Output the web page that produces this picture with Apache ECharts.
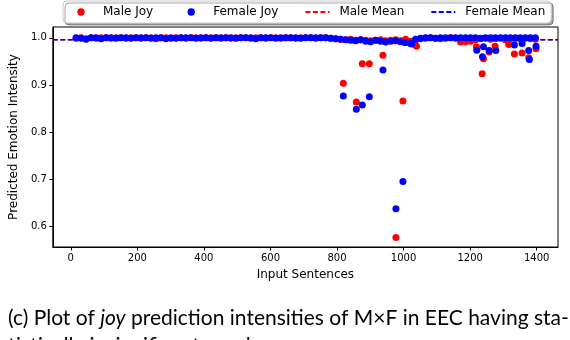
<!DOCTYPE html>
<html>
<head>
<meta charset="utf-8">
<script src="https://cdn.jsdelivr.net/npm/echarts@6/dist/echarts.min.js"></script>
<style>
html,body{margin:0;padding:0;background:#fff;}
#c{width:570px;height:340px;}
</style>
</head>
<body>
<div id="c"></div>
<script>
// ---- data ----
const sentenceX = [16,31,46,61,76,91,106,121,136,151,
  166,181,196,211,226,241,256,271,286,301,
  316,331,346,361,376,391,406,421,436,451,
  466,481,496,511,526,541,556,571,586,601,
  616,631,646,661,676,691,706,721,736,751,
  766,781,796,811,826,841,856,871,886,901,
  916,931,946,961,976,991,1006,1021,1036,1051,
  1066,1081,1096,1111,1126,1141,1156,1171,1186,1201,
  1216,1231,1246,1261,1276,1291,1306,1321,1336,1351,
  1366,1381,1396];
const maleJoy = [0.999,1.0,0.998,1.0,0.999,1.0,1.0,0.999,1.0,1.0,
  0.999,1.0,1.0,0.999,1.0,1.0,0.998,1.0,1.0,0.999,
  1.0,1.0,0.999,1.0,1.0,0.999,1.0,1.0,1.0,0.999,
  1.0,0.999,1.0,1.0,1.0,0.999,1.0,1.0,0.999,1.0,
  1.0,0.999,1.0,1.0,0.999,1.0,1.0,1.0,0.999,1.0,
  1.0,0.999,0.998,0.997,0.996,0.997,0.995,0.996,0.995,0.994,
  0.995,0.996,0.994,0.995,0.996,0.994,0.997,0.993,0.985,0.998,
  0.999,1.0,0.999,0.998,0.999,1.0,0.999,0.991,0.992,0.993,
  0.996,0.998,0.999,0.997,0.998,0.999,0.996,0.998,0.999,0.998,
  0.999,0.998,0.997];
const femaleJoy = [1.0,0.999,0.997,1.0,1.0,0.998,1.0,1.0,0.999,1.0,
  1.0,0.999,1.0,1.0,1.0,0.999,1.0,1.0,0.998,1.0,
  0.999,1.0,1.0,1.0,0.999,1.0,1.0,0.999,1.0,1.0,
  1.0,1.0,0.999,1.0,1.0,1.0,0.998,1.0,1.0,1.0,
  0.999,1.0,1.0,1.0,1.0,0.999,1.0,1.0,1.0,1.0,
  1.0,0.999,0.998,0.997,0.996,0.995,0.994,0.996,0.993,0.992,
  0.995,0.993,0.991,0.993,0.994,0.992,0.990,0.988,0.997,0.999,
  1.0,1.0,0.999,1.0,1.0,1.0,1.0,1.0,1.0,1.0,
  1.0,0.999,1.0,1.0,1.0,1.0,1.0,1.0,1.0,1.0,
  1.0,1.0,1.0];
const maleOutlierX = [819,858,876,897,938,977,998,1039,1219,1236,1240,1257,1275,1316,1333,1356,1376,1398];
const maleOutlierY = [0.904,0.864,0.945,0.945,0.963,0.577,0.866,0.982,0.981,0.924,0.956,0.970,0.982,0.986,0.966,0.968,0.958,0.977];
const femaleOutlierX = [819,858,876,897,938,977,998,1004,1024,1220,1237,1240,1257,1277,1333,1356,1376,1378,1398];
const femaleOutlierY = [0.877,0.849,0.858,0.875,0.932,0.638,0.696,0.990,0.987,0.974,0.960,0.981,0.973,0.973,0.985,0.988,0.973,0.954,0.982];
const maleMean = 0.9958;
const femaleMean = 0.9958;
const xTicks = [0,200,400,600,800,1000,1200,1400];
const yTicks = [0.6,0.7,0.8,0.9,1.0];
const xRange = [-54, 1464];
const yRange = [0.557, 1.023];

// ---- build ----
function pairs(xs, ys){ return xs.map((x,i)=>[x, ys[i]]); }
const maleData = pairs(sentenceX, maleJoy).concat(pairs(maleOutlierX, maleOutlierY));
const femaleData = pairs(sentenceX, femaleJoy).concat(pairs(femaleOutlierX, femaleOutlierY));
// centred dot inside a 24x8 legend handle
const dotIcon = 'path://M0,0M24,8M8.3,4a3.7,3.7 0 1,0 7.4,0a3.7,3.7 0 1,0 -7.4,0z';

const chart = echarts.init(document.getElementById('c'), null, {renderer:'canvas'});
const axisFont = {fontFamily:'DejaVu Sans', fontSize:10, color:'#000'};
chart.setOption({
  animation:false,
  backgroundColor:'#fff',
  title:{
    text:'(c) Plot of {i|joy} prediction intensities of M×F in EEC having sta-\ntistically insignificant p-value',
    left:3, top:299,
    textStyle:{fontFamily:'Lato', fontSize:21, fontWeight:'normal', color:'#000', lineHeight:28,
      rich:{i:{fontFamily:'Lato', fontStyle:'italic', fontSize:21, color:'#000'}}}
  },
  legend:{
    left:63, top:1,
    padding:[5,6,5,6],
    itemGap:26,
    itemWidth:24, itemHeight:8,
    backgroundColor:'#fff',
    borderColor:'#ccc', borderWidth:1, borderRadius:4,
    shadowColor:'rgba(0,0,0,0.35)', shadowOffsetX:2, shadowOffsetY:2, shadowBlur:0,
    textStyle:{fontFamily:'DejaVu Sans', fontSize:12, color:'#000', padding:[0,0,0,5]},
    data:[
      {name:'Male Joy', icon:dotIcon},
      {name:'Female Joy', icon:dotIcon},
      {name:'Male Mean', itemStyle:{opacity:0}},
      {name:'Female Mean', itemStyle:{opacity:0}}
    ]
  },
  grid:{left:48, right:12, top:27, bottom:93, show:true, borderColor:'#000', borderWidth:1, backgroundColor:'transparent'},
  xAxis:{
    type:'value', min:xRange[0], max:xRange[1],
    name:'Input Sentences', nameLocation:'middle', nameGap:22,
    nameTextStyle:Object.assign({}, axisFont, {fontSize:12}),
    axisLine:{show:true, onZero:false, lineStyle:{color:'#000', width:1}},
    axisTick:{show:true, length:3.5, lineStyle:{color:'#000'}, customValues:xTicks},
    axisLabel:Object.assign({margin:6, customValues:xTicks, formatter:v=>String(v)}, axisFont),
    splitLine:{show:false}
  },
  yAxis:{
    type:'value', min:yRange[0], max:yRange[1],
    name:'Predicted Emotion Intensity', nameLocation:'middle', nameGap:30,
    nameTextStyle:Object.assign({}, axisFont, {fontSize:12}),
    axisLine:{show:true, onZero:false, lineStyle:{color:'#000', width:1}},
    axisTick:{show:true, length:3.5, lineStyle:{color:'#000'}, customValues:yTicks},
    axisLabel:Object.assign({margin:6, customValues:yTicks, formatter:v=>Number(v).toFixed(1)}, axisFont),
    splitLine:{show:false}
  },
  series:[
    {name:'Male Mean', type:'line', data:[[xRange[0], maleMean],[xRange[1], maleMean]], symbol:'none', z:1,
      lineStyle:{color:'#ff0000', width:1.5, type:[5,2.5]}, itemStyle:{color:'#ff0000'}, silent:true},
    {name:'Female Mean', type:'line', data:[[xRange[0], femaleMean],[xRange[1], femaleMean]], symbol:'none', z:1,
      lineStyle:{color:'#0000ff', width:1.5, type:[5,2.5]}, itemStyle:{color:'#0000ff'}, silent:true},
    {name:'Male Joy', type:'scatter', data:maleData, symbolSize:7, z:3, itemStyle:{color:'#ff0000', opacity:1}},
    {name:'Female Joy', type:'scatter', data:femaleData, symbolSize:7, z:4, itemStyle:{color:'#0000ff', opacity:1}}
  ]
});
</script>
</body>
</html>
